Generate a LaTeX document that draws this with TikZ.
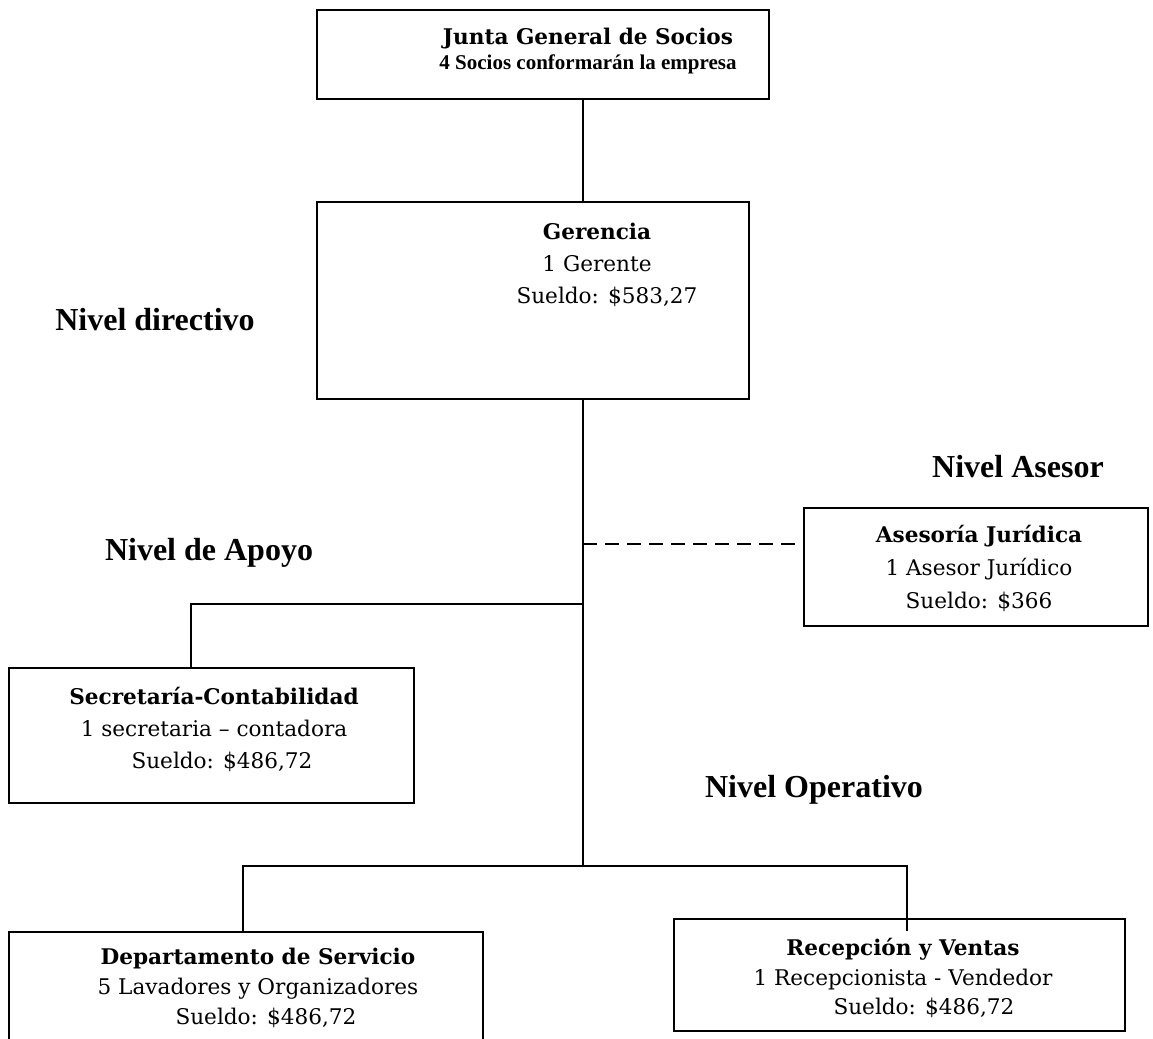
\documentclass[tikz,border=0pt]{standalone}
\usepackage{fontspec}
\setmainfont{DejaVu Serif}
\newfontfamily\levelfont{Liberation Serif}
\usepackage{tikz}

\tikzset{
  box/.style={draw, line width=1pt, inner sep=0pt},
  boxtext/.style={align=center, inner sep=0pt, font=\fontsize{10.8}{16}\selectfont},
  level/.style={font=\levelfont\bfseries\fontsize{16}{19}\selectfont},
  link/.style={line width=0.75pt}
}

\begin{document}
\begin{tikzpicture}[x=0.5pt,y=-0.5pt]
\useasboundingbox (0,0) rectangle (1153,1039);

% main axis of the chart
\coordinate (axis) at (583,0);

% Junta General
\node[box, minimum width=226pt, minimum height=44.5pt] (junta) at (543,54.5) {};
\node[boxtext, font=\fontsize{10.8}{12.5}\selectfont] (juntatxt) at (588,51)
  {\textbf{Junta General de Socios}\\
   {\levelfont\bfseries\fontsize{10.5}{12.5}\selectfont 4 Socios conformarán la empresa}};

% Gerencia
\node[box, minimum width=216pt, minimum height=98.5pt] (ger) at (533,300.5) {};
\node[boxtext] (gertxt) at (597,265)
  {\textbf{Gerencia}\hspace{7pt}\\1 Gerente\\\hspace{10pt}Sueldo: \$583,27};
\node[level] (directivo) at (155,320) {Nivel directivo};

% Asesoria
\node[level] (asesor) at (1018,467) {Nivel Asesor};
\node[box, minimum width=172pt, minimum height=59pt] (ase) at (976,567) {};
\node[boxtext, font=\fontsize{10.8}{16.5}\selectfont] (asetxt) at (979,568)
  {\textbf{Asesoría Jurídica}\\1 Asesor Jurídico\\Sueldo: \$366};

% Secretaria
\node[level] (apoyo) at (209,553) {Nivel de Apoyo};
\node[box, minimum width=202.5pt, minimum height=67.5pt] (secre) at (211.5,735.5) {};
\node[boxtext] (secretxt) at (214,729)
  {\textbf{Secretaría-Contabilidad}\\1 secretaria -- contadora\\\hspace{8pt}Sueldo: \$486,72};

% nivel operativo
\node[level] (operativo) at (814,790) {Nivel Operativo};
\node[box, minimum width=237pt, minimum height=64pt] (dept) at (246,996) {};
\node[boxtext, font=\fontsize{10.8}{15}\selectfont] (depttxt) at (258,988)
  {\textbf{Departamento de Servicio}\hspace{10pt}\\5 Lavadores y Organizadores\\\hspace{8pt}Sueldo: \$486,72};
\node[box, minimum width=225.5pt, minimum height=56pt] (recep) at (899.5,975) {};
\node[boxtext, font=\fontsize{10.8}{14.75}\selectfont] (receptxt) at (903,978)
  {\textbf{Recepción y Ventas}\hspace{22pt}\\1 Recepcionista - Vendedor\\\hspace{21pt}Sueldo: \$486,72};

% lines
\coordinate (asejoin) at (583,544);
\coordinate (apoyojoin) at (191,604);
\coordinate (deptjoin) at (243,866);
\coordinate (recjoin) at (907,866);
\coordinate (recend) at (907,931);

\draw[link] (junta.south -| axis) -- (ger.north -| axis);
\draw[link] (ger.south -| axis) -- (axis |- deptjoin);
\draw[link, dash pattern=on 7pt off 4pt] (asejoin) -- (asejoin -| ase.west);
\draw[link] (axis |- apoyojoin) -- (apoyojoin) -- (secre.north -| apoyojoin);
\draw[link] (dept.north -| deptjoin) -- (deptjoin) -- (recjoin) -- (recend);

\end{tikzpicture}
\end{document}
